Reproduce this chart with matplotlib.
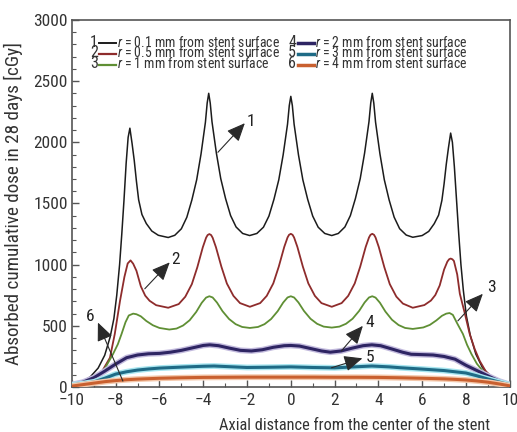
import matplotlib
matplotlib.use("Agg")
import matplotlib.pyplot as plt
from matplotlib import font_manager
import matplotlib.patheffects as pe
from matplotlib.lines import Line2D

# pick a narrow sans font if one is installed
entries = font_manager.fontManager.ttflist
names = {f.name for f in entries}
FONT, STRETCH = "Liberation Sans", "normal"
for cand in ["Liberation Sans Narrow", "Roboto Condensed", "Open Sans Condensed",
             "Noto Sans Condensed", "DejaVu Sans Condensed"]:
    if cand in names:
        FONT = cand
        break
else:
    for f in entries:
        if f.name in ("Noto Sans", "DejaVu Sans", "Open Sans", "Roboto") and \
                str(f.stretch) in ("condensed", "semi-condensed"):
            FONT, STRETCH = f.name, str(f.stretch)
            break
CONDENSED = FONT != "Liberation Sans"
plt.rcParams['font.family'] = [FONT, 'DejaVu Sans']
plt.rcParams['font.stretch'] = STRETCH
plt.rcParams['mathtext.fontset'] = 'custom'
plt.rcParams['mathtext.it'] = FONT + ':italic'
plt.rcParams['mathtext.rm'] = FONT
K = 1.0 if CONDENSED else 0.85  # size factor

# ---------------- data ----------------
x1 = [-10, -9.5, -9.15, -8.8, -8.5, -8.25, -8.08, -7.95, -7.82, -7.72, -7.62, -7.52, -7.43, -7.35,
      -7.25, -7.15, -7.05, -6.95, -6.8, -6.6, -6.35, -6.05, -5.6,
      -5.3, -5.0, -4.75, -4.52, -4.3, -4.1, -3.9, -3.82, -3.75,
      -3.68, -3.6, -3.4, -3.2, -2.98, -2.75, -2.5, -2.2, -1.88,
      -1.55, -1.25, -1.0, -0.77, -0.55, -0.35, -0.15, -0.07, 0.0,
      0.07, 0.15, 0.35, 0.55, 0.77, 1.0, 1.25, 1.55, 1.87,
      2.17, 2.47, 2.72, 2.95, 3.17, 3.37, 3.57, 3.65, 3.72,
      3.79, 3.87, 4.07, 4.27, 4.49, 4.72, 4.97, 5.27, 5.57,
      6.0, 6.3, 6.55, 6.75, 6.9, 7.0, 7.1, 7.2, 7.3,
      7.38, 7.47, 7.57, 7.67, 7.77, 7.88, 8.02, 8.2, 8.45, 8.75, 9.1, 9.5, 10]
y1 = [20, 45, 85, 155, 260, 410, 560, 750, 1000, 1250, 1525, 1830, 2040, 2115,
      1990, 1850, 1680, 1530, 1410, 1336, 1275, 1240, 1222,
      1240, 1293, 1387, 1528, 1693, 1905, 2164, 2320, 2400,
      2320, 2168, 1912, 1703, 1540, 1401, 1308, 1255, 1238,
      1255, 1306, 1397, 1534, 1693, 1897, 2148, 2300, 2375,
      2300, 2148, 1897, 1693, 1534, 1397, 1306, 1255, 1238,
      1255, 1308, 1401, 1540, 1703, 1912, 2168, 2320, 2400,
      2320, 2165, 1906, 1694, 1529, 1388, 1294, 1242, 1224,
      1238, 1272, 1335, 1405, 1525, 1660, 1820, 1955, 2075,
      2000, 1800, 1525, 1250, 1000, 790, 580, 420, 270, 160, 90, 45, 18]

x2 = [-10, -9.5, -9.04, -8.6, -8.26, -8.04, -7.8, -7.6, -7.45, -7.32,
      -7.2, -7.05, -6.85, -6.65, -6.45, -6.15, -5.6,
      -5.12, -4.82, -4.52, -4.27, -4.02, -3.87, -3.8, -3.72,
      -3.64, -3.57, -3.42, -3.17, -2.92, -2.62, -2.32, -1.87,
      -1.4, -1.1, -0.8, -0.55, -0.3, -0.15, -0.08, 0.0,
      0.08, 0.15, 0.3, 0.55, 0.8, 1.1, 1.4, 1.87,
      2.32, 2.62, 2.92, 3.17, 3.42, 3.57, 3.64, 3.72,
      3.8, 3.87, 4.02, 4.27, 4.52, 4.82, 5.12, 5.57,
      6.1, 6.4, 6.6, 6.8, 7.0, 7.15, 7.23, 7.3,
      7.38, 7.45, 7.6, 7.72, 7.95, 8.17, 8.4, 8.63, 8.9, 9.22, 9.6, 10]
y2 = [18, 40, 76, 135, 240, 434, 705, 900, 1010, 1035,
      1008, 950, 823, 747, 705, 669, 648,
      678, 738, 841, 979, 1142, 1220, 1242, 1250,
      1242, 1220, 1143, 983, 846, 745, 686, 656,
      686, 745, 847, 984, 1145, 1222, 1244, 1252,
      1244, 1222, 1145, 984, 847, 745, 686, 656,
      686, 745, 847, 984, 1145, 1222, 1244, 1252,
      1244, 1222, 1143, 980, 841, 739, 682, 648,
      670, 707, 752, 830, 960, 1025, 1044, 1050,
      1044, 1030, 920, 762, 600, 434, 310, 213, 130, 76, 40, 18]

x3 = [-10, -9.4, -8.95, -8.5, -8.12, -7.9, -7.73, -7.55, -7.4, -7.2,
      -7.05, -6.85, -6.6, -6.3, -6.0, -5.55,
      -5.22, -4.92, -4.62, -4.32, -4.07, -3.87, -3.72,
      -3.57, -3.37, -3.12, -2.82, -2.52, -2.22, -1.87,
      -1.5, -1.2, -0.9, -0.6, -0.35, -0.15, 0.0,
      0.15, 0.35, 0.6, 0.9, 1.2, 1.5, 1.87,
      2.22, 2.52, 2.82, 3.12, 3.37, 3.57, 3.72,
      3.87, 4.07, 4.32, 4.62, 4.92, 5.22, 5.57,
      6.05, 6.35, 6.65, 6.9, 7.1, 7.25,
      7.4, 7.6, 7.86, 8.05, 8.25, 8.5, 8.77, 9.1, 9.4, 10]
y3 = [18, 40, 76, 150, 270, 350, 434, 530, 585, 600,
      595, 578, 540, 505, 483, 470,
      478, 503, 546, 614, 688, 731, 742,
      732, 690, 620, 556, 514, 491, 483,
      491, 514, 556, 620, 690, 732, 742,
      732, 691, 622, 558, 517, 494, 486,
      494, 517, 558, 622, 691, 732, 742,
      731, 689, 617, 550, 507, 483, 475,
      487, 508, 545, 582, 600, 605,
      590, 520, 434, 345, 270, 190, 131, 80, 49, 18]

x4 = [-10, -9.5, -9.0, -8.5, -8.0, -7.5, -7.0, -6.5, -6.0, -5.5, -5.0, -4.5, -4.0, -3.7,
      -3.3, -2.8, -2.3, -1.8, -1.3, -0.8, -0.3, 0.0, 0.4, 0.9, 1.4, 1.8, 2.3, 2.8,
      3.3, 3.7, 4.1, 4.6, 5.1, 5.5, 6.0, 6.5, 7.0, 7.5, 8.0, 8.5, 9.0, 9.5, 10]
y4 = [20, 40, 76, 130, 188, 240, 262, 272, 275, 285, 300, 320, 340, 345,
      338, 318, 300, 295, 305, 325, 338, 340, 335, 315, 295, 285, 295, 318,
      338, 345, 338, 312, 285, 268, 265, 262, 250, 228, 178, 135, 92, 50, 20]

x5 = [-10, -9.5, -9.0, -8.5, -8.0, -7.5, -7.0, -6.5, -6.0, -5.0, -4.0, -3.5, -3.0, -2.0,
      -1.0, 0.0, 1.0, 2.0, 3.0, 3.7, 4.5, 5.0, 6.0, 7.0, 7.5, 8.0, 8.5, 9.0, 9.5, 10]
y5 = [18, 28, 42, 72, 106, 125, 139, 148, 155, 163, 170, 172, 168, 160,
      162, 165, 160, 157, 166, 172, 165, 158, 147, 135, 125, 115, 92, 66, 42, 18]

x6 = [-10, -9.5, -9.0, -8.5, -8.0, -7.5, -7.0, -6.0, -5.0, -4.0, -3.0, -2.0, -1.0, 0.0,
      1.0, 2.0, 3.0, 4.0, 5.0, 6.0, 7.0, 7.5, 8.0, 8.5, 9.0, 9.5, 10]
y6 = [8, 20, 32, 44, 53, 60, 65, 72, 76, 79, 80, 81, 81, 81,
      81, 80, 80, 79, 76, 72, 67, 63, 58, 50, 40, 26, 10]

series_x = [x1, x2, x3, x4, x5, x6]
series_y = [y1, y2, y3, y4, y5, y6]
numbers = ["1", "2", "3", "4", "5", "6"]
radii = ["0.1", "0.5", "1", "2", "3", "4"]
labels = [r"$r$ = %s mm from stent surface" % r for r in radii]
colors = ["#1c1c1c", "#8e2c2c", "#5f8f34", "#2e2563", "#1f6b86", "#c9602f"]
widths = [1.1, 1.3, 1.3, 2.2, 2.2, 2.2]
halos = [None, None, None, "#c2badd", "#a8e6f0", "#f4c8ab"]

# arrows: tail, tip and label positions in data units
arrow_tail_x = [-3.33, -6.67, 7.63, 2.31, 1.86, -7.67]
arrow_tail_y = [1918, 803, 541, 295, 158, 49]
arrow_tip_x = [-2.1, -5.53, 8.77, 3.29, 3.27, -8.81]
arrow_tip_y = [2156, 1019, 762, 500, 235, 527]
arrow_lab_x = [-1.8, -5.25, 9.15, 3.6, 3.6, -9.15]
arrow_lab_y = [2170, 1045, 815, 530, 240, 575]
arrow_text = ["1", "2", "3", "4", "5", "6"]

xticks = [-10, -8, -6, -4, -2, 0, 2, 4, 6, 8, 10]
yticks = [0, 500, 1000, 1500, 2000, 2500, 3000]
xlabel = "Axial distance from the center of the stent"
ylabel = "Absorbed cumulative dose in 28 days [cGy]"

# ---------------- figure ----------------
fig = plt.figure(figsize=(5.17, 4.32), dpi=100)
ax = fig.add_axes([0.139, 0.104, 0.847, 0.850])

for xs, ys, c, w, h in zip(series_x, series_y, colors, widths, halos):
    effects = [pe.Stroke(linewidth=w + 2.0, foreground=h), pe.Normal()] if h else None
    ax.plot(xs, ys, color=c, lw=w, solid_joinstyle='round', solid_capstyle='round',
            path_effects=effects, zorder=3)

for tx, ty, hx, hy, lx, ly, t in zip(arrow_tail_x, arrow_tail_y, arrow_tip_x, arrow_tip_y,
                                     arrow_lab_x, arrow_lab_y, arrow_text):
    ax.annotate("", xy=(hx, hy), xytext=(tx, ty),
                arrowprops=dict(arrowstyle="-|>,head_length=0.8,head_width=0.35",
                                mutation_scale=14, color="#2a2a2a", lw=0.8,
                                shrinkA=0, shrinkB=0),
                zorder=5)
    ax.text(lx, ly, t, fontsize=12.5 * K, ha="center", va="center", color="#222222", zorder=6)

ax.set_xlim(-10, 10)
ax.set_ylim(0, 3000)
ax.set_xticks(xticks)
ax.set_xticklabels([("\u2212%d" % -v) if v < 0 else "%d" % v for v in xticks])
ax.set_yticks(yticks)
ax.set_xticks(range(-10, 11), minor=True)
ax.set_yticks(range(0, 3001, 100), minor=True)
ax.tick_params(axis="both", which="both", direction="in", colors="#555555",
               labelcolor="#333333", top=False, right=False)
ax.tick_params(axis="x", labelsize=12.5 * K, pad=4)
ax.tick_params(axis="y", labelsize=12.5 * K, pad=3)
ax.tick_params(which="major", length=5, width=1.0)
ax.tick_params(which="minor", length=3, width=0.8)
for s in ax.spines.values():
    s.set_color("#555555")
    s.set_linewidth(1.2)

ax.set_xlabel(xlabel, fontsize=11.8 * K, color="#333333")
ax.xaxis.set_label_coords(0.646, -0.083)
ax.set_ylabel(ylabel, fontsize=13.8 * K, color="#333333")
ax.yaxis.set_label_coords(-0.112, 0.5)

# legend (two columns, series number before each handle)
col_x = [0.050, 0.503]
row_y = [0.939, 0.910, 0.881]
for i in range(6):
    cx = col_x[i // 3]
    ry = row_y[i % 3]
    ax.text(cx, ry, numbers[i], transform=ax.transAxes, fontsize=11.5 * K,
            ha="center", va="center", color="#333333")
    hl = Line2D([cx + 0.013, cx + 0.050], [ry - 0.003, ry - 0.003], transform=ax.transAxes,
                color=colors[i], lw=widths[i] + 0.3)
    ax.add_line(hl)
    ax.text(cx + 0.053, ry, labels[i], transform=ax.transAxes,
            fontsize=9.9 * K,
            ha="left", va="center", color="#333333")

fig.savefig("out.png", dpi=100)
